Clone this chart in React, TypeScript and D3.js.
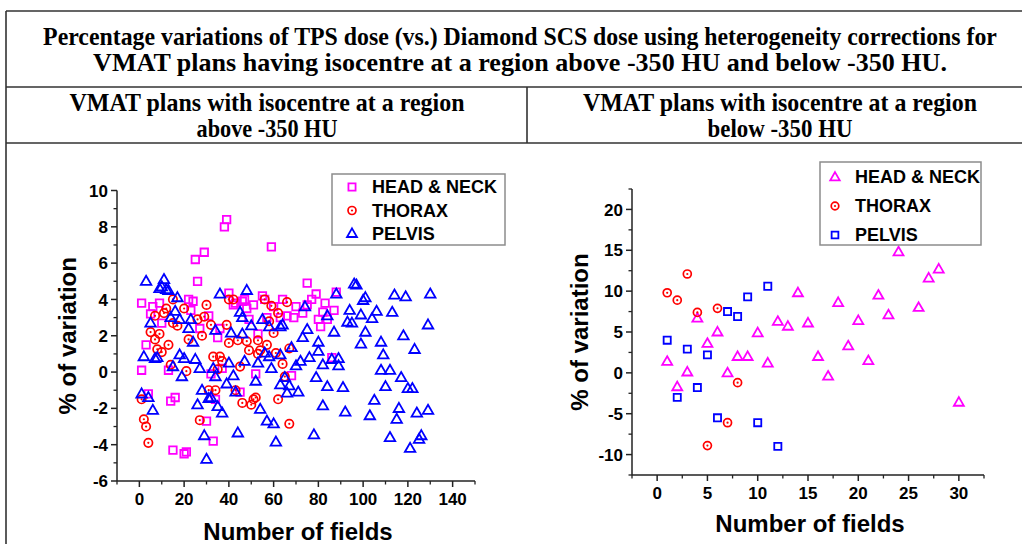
import React, { useLayoutEffect, useRef, useState } from "react"
import * as d3 from "d3"

// ---- data: VMAT plans, isocentre above -350 HU ----
const aboveHeadNeck: [number, number][] = [
  [1, 3.8], [1, 0.1], [3, 1.5], [4, -1.2], [5, 3.2], [6, 3.6], [9, 3.8], [10, 2.7],
  [13, 0.1], [14, -1.6], [16, -1.4], [15, -4.3], [20, -4.5], [21, -4.4], [22, 4.0],
  [23, 3.4], [24, 3.9], [25, 6.2], [26, 5.0], [27, 2.4], [29, 6.6], [30, -2.7],
  [31, 3.1], [32, -0.1], [33, -3.8], [34, -1.5], [35, 1.9], [36, 2.4], [37, 0.2],
  [38, 8.0], [39, 8.4], [40, 4.35], [42, 3.7], [43, 3.8], [45, -1.1], [46, 3.9],
  [47, 4.0], [48, 3.5], [49, 2.9], [51, 3.7], [52, -0.1], [53, 2.1], [55, 4.2],
  [56, 4.0], [57, 3.0], [59, 6.9], [60, 3.6], [63, 3.0], [64, 4.0], [66, 3.1],
  [68, -0.2], [69, 3.0], [70, 3.6], [73, 3.25], [75, 4.9], [75, 3.7], [77, 4.0],
  [79, 4.3], [80, 2.9], [81, 2.5], [82, 3.3], [83, 3.8], [84, 2.9], [86, 0.8],
  [87, 3.4], [88, 4.4],
]

const aboveThorax: [number, number][] = [
  [1, -1.5], [2, -2.6], [3, -3.0], [4, -3.9], [5, 2.2], [7, 3.1], [7, 1.8], [8, 1.25],
  [9, 2.1], [10, 1.1], [11, 3.25], [12, 3.5], [13, 1.5], [14, 0.4], [15, 4.0],
  [15, 2.7], [17, 2.55], [20, 3.5], [21, 0.05], [22, 1.8], [26, 2.9], [27, -2.65],
  [28, 2.0], [29, 3.05], [30, 3.7], [31, -1.0], [32, 2.6], [33, 0.85], [34, -1.0],
  [35, 0.15], [36, 0.85], [37, 0.6], [39, 2.6], [40, 4.0], [40, 1.6], [42, 4.0],
  [43, -1.0], [44, 1.75], [45, 0.3], [46, -1.7], [48, 1.7], [49, 1.2], [50, -1.8],
  [51, -1.5], [52, -1.4], [53, 1.75], [53, 1.0], [54, 1.2], [56, 4.0], [57, 1.5],
  [58, 2.8], [59, 3.65], [60, 2.15], [61, 1.05], [62, 3.25], [62, -1.5], [64, 0.45],
  [65, -0.25], [66, 3.85], [67, 1.3], [67, -2.85],
]

const abovePelvis: [number, number][] = [
  [1, -1.2], [2, 0.85], [3, 5.0], [4, -1.4], [5, 2.7], [6, -2.1], [7, 0.75], [8, 0.8],
  [9, 4.6], [10, 4.7], [11, 5.1], [12, 4.55], [13, 4.5], [14, 3.0], [15, 0.3],
  [16, 3.35], [17, 4.1], [18, 2.9], [18, 0.95], [19, -0.25], [20, 0.75], [22, 2.4],
  [23, 2.9], [24, 1.65], [25, 0.7], [26, -1.8], [27, 0.2], [28, -1.0], [29, -3.5],
  [30, -4.8], [31, -1.45], [32, -1.4], [33, 0.2], [34, 2.3], [34, -0.25], [35, -1.9],
  [36, 4.3], [37, -2.25], [39, -0.65], [40, 0.5], [41, 2.15], [42, -0.2], [43, -1.1],
  [44, -3.35], [45, 3.3], [46, 3.0], [46, 2.1], [47, 0.6], [48, 4.5], [50, 2.55],
  [52, -0.5], [53, 0.5], [54, -2.05], [55, 2.9], [56, 1.05], [57, -2.7], [58, 2.5],
  [58, 0.85], [59, 0.2], [60, -2.85], [61, -3.85], [63, 2.5], [63, 0.95], [63, -0.7],
  [64, 2.6], [65, -0.3], [66, -1.15], [67, -0.75], [68, 1.35], [70, 0.35], [71, -1.1],
  [72, 0.6], [73, 1.9], [74, 3.6], [75, 2.35], [76, 0.8], [78, -3.45], [79, -0.3],
  [80, 1.65], [80, 1.15], [82, 0.4], [82, -1.85], [84, 3.1], [84, -0.8], [86, 0.7],
  [87, 2.2], [88, 4.3], [89, 0.35], [89, 0.75], [91, -0.85], [92, -2.2], [93, 2.75],
  [94, 3.4], [95, 2.7], [96, 4.85], [97, 4.8], [99, 1.55], [99, 3.15], [100, 3.95],
  [101, 4.1], [101, 2.2], [103, -2.4], [104, 2.95], [105, -1.55], [106, 3.35],
  [108, 1.65], [108, 0.1], [109, 0.95], [110, -0.8], [112, 0.1], [112, -3.6],
  [113, 3.3], [114, 4.25], [115, -2.6], [116, -2.0], [117, -0.3], [118, 2.0],
  [119, 4.15], [120, -0.9], [121, -4.2], [122, -0.9], [123, 1.25], [124, -2.25],
  [125, -3.7], [126, -3.5], [129, 2.6], [129, -2.1], [130, 4.3],
]

// ---- data: VMAT plans, isocentre below -350 HU ----
const belowHeadNeck: [number, number][] = [
  [1, 1.4], [2, -1.7], [3, 0.1], [4, 6.7], [5, 3.6], [6, 5.0], [7, 0], [8, 2], [9, 2],
  [10, 4.9], [11, 1.2], [12, 6.3], [13, 5.7], [14, 9.8], [15, 6.1], [16, 2], [17, -0.4],
  [18, 8.6], [19, 3.3], [20, 6.4], [21, 1.5], [22, 9.5], [23, 7.1], [24, 14.8],
  [26, 8.0], [27, 11.6], [28, 12.7], [30, -3.6],
]

const belowThorax: [number, number][] = [
  [1, 9.8], [2, 8.9], [3, 12.1], [4, 7.4], [6, 7.9], [8, -1.2], [7, -6.1], [5, -8.9],
]

const belowPelvis: [number, number][] = [
  [1, 4.0], [3, 2.9], [5, 2.2], [7, 7.5], [8, 6.9], [9, 9.3], [11, 10.6], [2, -3.0],
  [4, -1.8], [6, -5.5], [10, -6.1], [12, -9.0],
]

const leftXTicks = [0, 20, 40, 60, 80, 100, 120, 140]
const leftXMinor = [-10, 10, 30, 50, 70, 90, 110, 130, 150]
const leftYTicks = [-6, -4, -2, 0, 2, 4, 6, 8, 10]
const leftYMinor = [-5, -3, -1, 1, 3, 5, 7, 9]
const rightXTicks = [0, 5, 10, 15, 20, 25, 30]
const rightXMinor = [-2.5, 2.5, 7.5, 12.5, 17.5, 22.5, 27.5, 32.5]
const rightYTicks = [-10, -5, 0, 5, 10, 15, 20]
const rightYMinor = [-12.5, -7.5, -2.5, 2.5, 7.5, 12.5, 17.5, 22.5]

const seriesNames = ["HEAD & NECK", "THORAX", "PELVIS"]

const MAGENTA = "#ff00ff"
const RED = "#ff0000"
const BLUE = "#0000ff"
const SANS = "'Liberation Sans', Arial, sans-serif"
const SERIF = "'Liberation Serif', 'Times New Roman', serif"

type Shape = "square" | "circle" | "triangle"

// heading text squeezed horizontally to a given width (condensed Times look)
function FitText({ cx, y, width, children }: { cx: number; y: number; width: number; children: string }) {
  const ref = useRef<SVGTextElement>(null)
  const [k, setK] = useState(0.92)
  useLayoutEffect(() => {
    if (!ref.current) return
    const len = ref.current.getComputedTextLength()
    if (len > 0) setK(width / len)
  }, [width, children])
  return (
    <text ref={ref} transform={`translate(${cx},${y}) scale(${k},1)`} textAnchor="middle">
      {children}
    </text>
  )
}

function Marker({ shape, cx, cy, color, sz }: { shape: Shape; cx: number; cy: number; color: string; sz: number }) {
  if (shape === "circle") {
    return (
      <g>
        <circle cx={cx} cy={cy} r={sz * 0.42} fill="none" stroke={color} strokeWidth={1.7} />
        <circle cx={cx} cy={cy} r={1.1} fill={color} />
      </g>
    )
  }
  const d =
    shape === "square"
      ? d3.symbol(d3.symbolSquare, (sz * 0.75) ** 2)()
      : d3.symbol(d3.symbolTriangle, 0.433 * (sz * 1.05) ** 2)()
  return (
    <path
      d={d || ""}
      transform={`translate(${cx},${cy + (shape === "triangle" ? 0.6 : 0)})`}
      fill="none"
      stroke={color}
      strokeWidth={1.8}
      strokeLinejoin="miter"
    />
  )
}

interface PanelProps {
  xDomain: [number, number]
  yDomain: [number, number]
  box: { left: number; right: number; top: number; bottom: number }
  xTicks: number[]
  xMinor: number[]
  yTicks: number[]
  yMinor: number[]
  series: { data: [number, number][]; shape: Shape; color: string }[]
  markerSize: number
  legend: { x: number; y: number; w: number; h: number; rowY: number[]; markX: number; textX: number }
  yTitleX: number
  xTitleY: number
}

function Panel(p: PanelProps) {
  const x = d3.scaleLinear().domain(p.xDomain).range([p.box.left, p.box.right])
  const y = d3.scaleLinear().domain(p.yDomain).range([p.box.bottom, p.box.top])
  const { left, bottom, top, right } = p.box
  const yMid = (top + bottom) / 2
  const xMid = x(p.xTicks[0] + (p.xTicks[p.xTicks.length - 1] - p.xTicks[0]) / 2)
  return (
    <g>
      {p.series.map((s, si) =>
        s.data.map((d, i) => (
          <Marker key={`${si}-${i}`} shape={s.shape} cx={x(d[0])} cy={y(d[1])} color={s.color} sz={p.markerSize} />
        ))
      )}
      {/* axes */}
      <line x1={left} x2={left} y1={top} y2={bottom} stroke="#222" strokeWidth={1.5} />
      <line x1={left} x2={right} y1={bottom} y2={bottom} stroke="#222" strokeWidth={1.5} />
      {p.yTicks.map((t) => (
        <g key={`yt${t}`}>
          <line x1={left - 6} x2={left} y1={y(t)} y2={y(t)} stroke="#222" strokeWidth={1.5} />
          <text x={left - 9} y={y(t)} dy="0.36em" textAnchor="end" fontFamily={SANS} fontWeight="bold" fontSize={17}>
            {t}
          </text>
        </g>
      ))}
      {p.yMinor.map((t) => (
        <line key={`ym${t}`} x1={left - 3.5} x2={left} y1={y(t)} y2={y(t)} stroke="#222" strokeWidth={1.3} />
      ))}
      {p.xTicks.map((t) => (
        <g key={`xt${t}`}>
          <line x1={x(t)} x2={x(t)} y1={bottom} y2={bottom + 6} stroke="#222" strokeWidth={1.5} />
          <text x={x(t)} y={bottom + 24} textAnchor="middle" fontFamily={SANS} fontWeight="bold" fontSize={17}>
            {t}
          </text>
        </g>
      ))}
      {p.xMinor.map((t) => (
        <line key={`xm${t}`} x1={x(t)} x2={x(t)} y1={bottom} y2={bottom + 3.5} stroke="#222" strokeWidth={1.3} />
      ))}
      <text
        transform={`translate(${p.yTitleX},${yMid}) rotate(-90)`}
        textAnchor="middle"
        fontFamily={SANS}
        fontWeight="bold"
        fontSize={24}
      >
        % of variation
      </text>
      <text x={xMid + 2} y={p.xTitleY} textAnchor="middle" fontFamily={SANS} fontWeight="bold" fontSize={24}>
        Number of fields
      </text>
      {/* legend */}
      <rect x={p.legend.x} y={p.legend.y} width={p.legend.w} height={p.legend.h} fill="#fff" stroke="#8c8c8c" strokeWidth={1.5} />
      {p.series.map((s, i) => (
        <g key={`lg${i}`}>
          <Marker shape={s.shape} cx={p.legend.markX} cy={p.legend.rowY[i]} color={s.color} sz={p.markerSize - 0.5} />
          <text x={p.legend.textX} y={p.legend.rowY[i]} dy="0.36em" fontFamily={SANS} fontWeight="bold" fontSize={18}>
            {seriesNames[i]}
          </text>
        </g>
      ))}
    </g>
  )
}

export default function App() {
  const lineColor = "#333"
  return (
    <svg
      width={1022}
      height={544}
      style={{ position: "absolute", left: 0, top: 0, background: "#fff" }}
    >
      <rect width={1022} height={544} fill="#fff" />
      {/* table frame */}
      <path d="M6,11 H1040 M6,11 V544 M6,87 H1040 M6,143 H1040 M527,87 V143" stroke={lineColor} strokeWidth={1.6} fill="none" />
      <g fontFamily={SERIF} fontWeight="bold" fontSize={25}>
        <FitText cx={520} y={45} width={954}>
          Percentage variations of TPS dose (vs.) Diamond SCS dose using heterogeneity corrections for
        </FitText>
        <FitText cx={520} y={71} width={854}>
          VMAT plans having isocentre at a region above -350 HU and below -350 HU.
        </FitText>
        <FitText cx={267} y={111} width={395}>
          VMAT plans with isocentre at a region
        </FitText>
        <FitText cx={267} y={137} width={141}>
          above -350 HU
        </FitText>
        <FitText cx={780} y={111} width={394}>
          VMAT plans with isocentre at a region
        </FitText>
        <FitText cx={780} y={137} width={145}>
          below -350 HU
        </FitText>
      </g>
      <Panel
        xDomain={[-10, 150]}
        yDomain={[-6, 10]}
        box={{ left: 117, right: 475, top: 190.5, bottom: 481 }}
        xTicks={leftXTicks}
        xMinor={leftXMinor}
        yTicks={leftYTicks}
        yMinor={leftYMinor}
        series={[
          { data: aboveHeadNeck, shape: "square", color: MAGENTA },
          { data: aboveThorax, shape: "circle", color: RED },
          { data: abovePelvis, shape: "triangle", color: BLUE },
        ]}
        markerSize={10}
        legend={{ x: 332, y: 174, w: 173, h: 71, rowY: [187, 210.5, 233.5], markX: 352, textX: 372 }}
        yTitleX={76}
        xTitleY={540}
      />
      <Panel
        xDomain={[-2.5, 32.5]}
        yDomain={[-12.5, 22.5]}
        box={{ left: 632, right: 984, top: 189, bottom: 475 }}
        xTicks={rightXTicks}
        xMinor={rightXMinor}
        yTicks={rightYTicks}
        yMinor={rightYMinor}
        series={[
          { data: belowHeadNeck, shape: "triangle", color: MAGENTA },
          { data: belowThorax, shape: "circle", color: RED },
          { data: belowPelvis, shape: "square", color: BLUE },
        ]}
        markerSize={9.5}
        legend={{ x: 820, y: 162, w: 161, h: 83, rowY: [177, 206, 235], markX: 835, textX: 855 }}
        yTitleX={588}
        xTitleY={532}
      />
    </svg>
  )
}
